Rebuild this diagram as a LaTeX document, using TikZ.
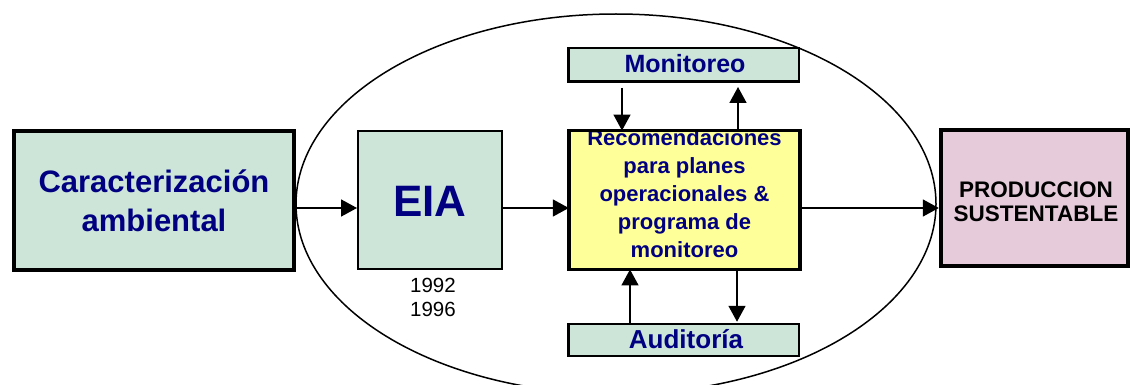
\documentclass[tikz,border=0pt]{standalone}
\usepackage{fontspec}
\setmainfont{Liberation Sans}
\usetikzlibrary{arrows.meta}
\definecolor{boxgreen}{RGB}{204,229,216}
\definecolor{boxyellow}{RGB}{255,255,153}
\definecolor{boxpink}{RGB}{230,204,218}
\definecolor{navy}{RGB}{0,0,128}
\tikzset{
  box/.style={rectangle, inner sep=0pt, draw=black},
  txt/.style={inner sep=0pt, align=center},
  arr/.style={line width=1.6pt, -{Triangle[length=16pt,width=17pt]}},
}
\begin{document}
\begin{tikzpicture}[x=1pt,y=-1pt]
\useasboundingbox (0,0) rectangle (1135,385);
\clip (0,0) rectangle (1135,385);
\fill[white] (0,0) rectangle (1135,385);
% ellipse
\draw[line width=1.5pt] (616,204) ellipse [x radius=320, y radius=190];
% boxes
\node[box, line width=4pt, fill=boxgreen, minimum width=280pt, minimum height=139pt] (car) at (154,200.5) {};
\node[txt, font=\bfseries\fontsize{31}{39}\selectfont, text=navy] (cart) at (154,201) {Caracterización\\ambiental};
\node[box, line width=2pt, fill=boxgreen, minimum width=144pt, minimum height=138pt] (eia) at (430,200) {};
\node[txt, font=\bfseries\fontsize{44}{50}\selectfont, text=navy] (eiat) at (430,201.3) {EIA};
\node[txt, font=\fontsize{20.5}{24}\selectfont] (years) at (433,297.5) {1992\\1996};
\node[box, draw=none, fill=boxyellow, minimum width=231pt, minimum height=138.5pt] (rec) at (684.5,200) {};
\node[txt, font=\bfseries\fontsize{22}{28}\selectfont, text=navy] (rect) at (684.5,194) {Recomendaciones\\para planes\\operacionales \&\\programa de\\monitoreo};
\draw[line width=3.5pt] (rec.north west) rectangle (rec.south east);
\node[box, line width=2.5pt, fill=boxgreen, minimum width=230.5pt, minimum height=33.5pt] (mon) at (683.5,65) {};
\node[txt, font=\bfseries\fontsize{25}{30}\selectfont, text=navy] (mont) at (685,64) {Monitoreo};
\node[box, line width=2.5pt, fill=boxgreen, minimum width=230.5pt, minimum height=32pt] (aud) at (683.5,340) {};
\node[txt, font=\bfseries\fontsize{26}{30}\selectfont, text=navy] (audt) at (686,339.5) {Auditoría};
\node[box, line width=4.5pt, fill=boxpink, minimum width=187pt, minimum height=136pt] (prod) at (1034.5,198) {};
\node[txt, font=\bfseries\fontsize{22.5}{24}\selectfont] (prodt) at (1036,202) {PRODUCCION\\SUSTENTABLE};
% arrows
\draw[arr] (car.east |- 0,208) -- (eia.west |- 0,208);
\draw[arr] (eia.east |- 0,208) -- (rec.west |- 0,208);
\draw[arr] (rec.east |- 0,208) -- (prod.west |- 0,208);
\draw[arr, shorten <=5pt] (mon.south -| 622,0) -- (rec.north -| 622,0);
\draw[arr, shorten >=4pt] (rec.north -| 738,0) -- (mon.south -| 738,0);
\draw[arr] (aud.north -| 630,0) -- (rec.south -| 630,0);
\draw[arr, shorten >=1pt] (rec.south -| 737,0) -- (aud.north -| 737,0);
\end{tikzpicture}
\end{document}
